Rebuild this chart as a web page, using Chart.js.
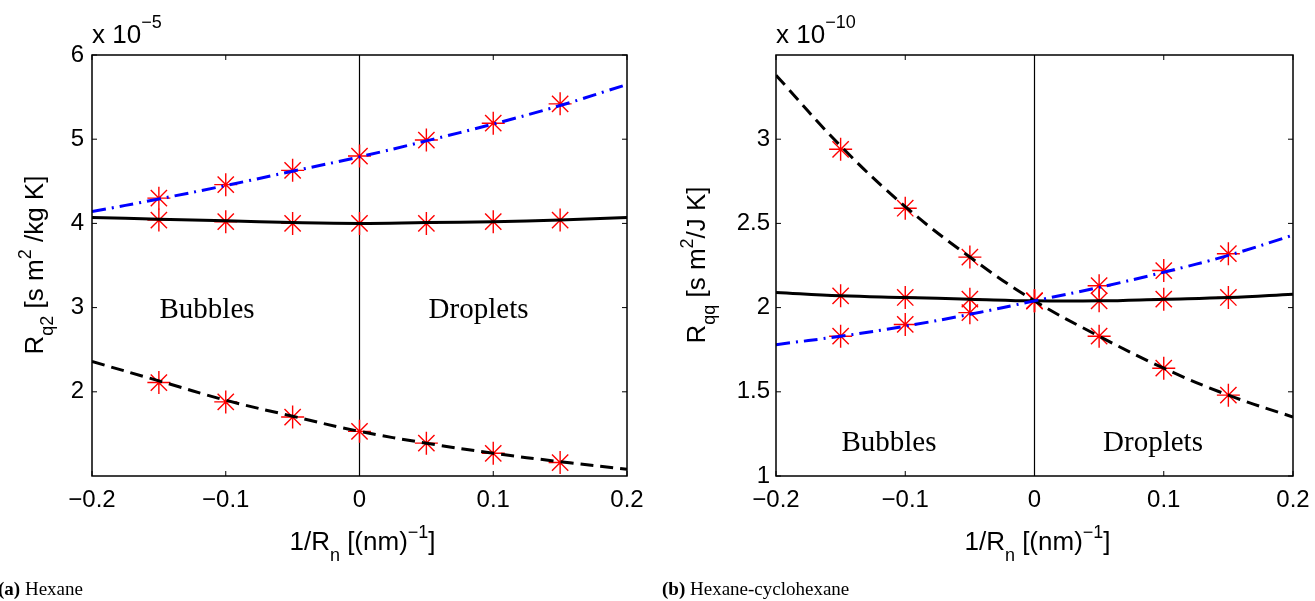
<!DOCTYPE html>
<html>
<head>
<meta charset="utf-8">
<script src="https://cdn.jsdelivr.net/npm/chart.js@4.4.1/dist/chart.umd.min.js"></script>
<style>
  html, body { margin: 0; padding: 0; background: #fff; overflow: hidden; }
  #wrap { position: relative; width: 1315px; height: 601px; }
  canvas { position: absolute; top: 0; }
</style>
</head>
<body>
<div id="wrap">
  <canvas id="chartA" width="657" height="601" style="left:0"></canvas>
  <canvas id="chartB" width="658" height="601" style="left:657px"></canvas>
</div>
<script>
// shared x values
const xFit = [-0.2, -0.15, -0.1, -0.05, 0, 0.05, 0.1, 0.15, 0.2];
const xData = [-0.15, -0.1, -0.05, 0, 0.05, 0.1, 0.15];
const xTicks = [-0.2, -0.1, 0, 0.1, 0.2];

// (a) Hexane, R_q2 in units of 1e-5
const hexBlueFit = [4.14, 4.29, 4.45, 4.62, 4.79, 4.98, 5.18, 5.40, 5.65];
const hexBlueData = [4.30, 4.46, 4.63, 4.80, 4.99, 5.19, 5.42];
const hexSolidFit = [4.07, 4.05, 4.03, 4.01, 4.00, 4.01, 4.02, 4.04, 4.07];
const hexSolidData = [4.04, 4.02, 4.00, 4.00, 4.00, 4.02, 4.04];
const hexDashFit = [2.36, 2.13, 1.90, 1.71, 1.53, 1.39, 1.27, 1.17, 1.08];
const hexDashData = [2.11, 1.88, 1.70, 1.53, 1.39, 1.27, 1.16];
const hexYTicks = [2, 3, 4, 5, 6];

// (b) Hexane-cyclohexane, R_qq in units of 1e-10
const mixDashFit = [3.38, 2.96, 2.60, 2.30, 2.04, 1.83, 1.64, 1.48, 1.35];
const mixDashData = [2.94, 2.59, 2.30, 2.04, 1.83, 1.64, 1.48];
const mixSolidFit = [2.09, 2.07, 2.06, 2.05, 2.04, 2.04, 2.05, 2.06, 2.08];
const mixSolidData = [2.07, 2.06, 2.05, 2.04, 2.04, 2.05, 2.06];
const mixBlueFit = [1.78, 1.83, 1.89, 1.96, 2.04, 2.12, 2.21, 2.31, 2.43];
const mixBlueData = [1.83, 1.90, 1.97, 2.04, 2.13, 2.22, 2.32];
const mixYTicks = [1, 1.5, 2, 2.5, 3];

const SANS = '"Liberation Sans", Arial, sans-serif';
const SERIF = '"Liberation Serif", "Times New Roman", serif';

function pts(xs, ys) {
    return xs.map((x, i) => ({ x: x, y: ys[i] }));
}

function fmt(v) {
    if (v === 0) return '0';
    return (v < 0 ? '\u2212' : '') + String(Math.abs(v));
}

function fitLine(xs, ys, color, dash) {
    return {
        data: pts(xs, ys),
        showLine: true,
        borderColor: color,
        borderWidth: 3,
        borderDash: dash,
        pointRadius: 0,
        tension: 0.4,
        order: 1
    };
}

function stars(xs, ys) {
    return {
        data: pts(xs, ys),
        showLine: false,
        pointStyle: 'star',
        pointRadius: 11.5,
        borderWidth: 1.4,
        borderColor: '#ff0000',
        backgroundColor: '#ff0000',
        order: 2
    };
}

// draw text made of pieces (normal / sub / superscript)
function drawParts(ctx, parts, x, y, center) {
    let total = 0;
    parts.forEach(p => {
        ctx.font = (p.bold ? 'bold ' : '') + p.s + 'px ' + (p.f || SANS);
        p.w = ctx.measureText(p.t).width;
        total += p.w;
    });
    let cx = center ? x - total / 2 : x;
    ctx.textAlign = 'left';
    ctx.textBaseline = 'alphabetic';
    parts.forEach(p => {
        ctx.font = (p.bold ? 'bold ' : '') + p.s + 'px ' + (p.f || SANS);
        ctx.fillText(p.t, cx, y + (p.dy || 0));
        cx += p.w;
    });
}

const overlay = {
    id: 'overlay',
    beforeDatasetsDraw(chart) {
        const ctx = chart.ctx, a = chart.chartArea;
        const x0 = chart.scales.x.getPixelForValue(0);
        ctx.save();
        ctx.strokeStyle = '#000';
        ctx.lineWidth = 1.2;
        ctx.beginPath();
        ctx.moveTo(x0, a.top);
        ctx.lineTo(x0, a.bottom);
        ctx.stroke();
        ctx.restore();
    },
    afterDraw(chart) {
        const o = chart.options.plugins.overlay;
        const ctx = chart.ctx, a = chart.chartArea;
        const sx = chart.scales.x, sy = chart.scales.y;
        ctx.save();
        ctx.strokeStyle = '#000';
        ctx.fillStyle = '#000';
        // box
        ctx.lineWidth = 1.5;
        ctx.strokeRect(a.left, a.top, a.right - a.left, a.bottom - a.top);
        // inward ticks
        ctx.lineWidth = 1;
        ctx.beginPath();
        xTicks.forEach(v => {
            const px = sx.getPixelForValue(v);
            ctx.moveTo(px, a.bottom); ctx.lineTo(px, a.bottom - 5);
            ctx.moveTo(px, a.top); ctx.lineTo(px, a.top + 5);
        });
        o.yTicks.forEach(v => {
            const py = sy.getPixelForValue(v);
            ctx.moveTo(a.left, py); ctx.lineTo(a.left + 5, py);
            ctx.moveTo(a.right, py); ctx.lineTo(a.right - 5, py);
        });
        ctx.stroke();

        // exponent above the y axis
        drawParts(ctx, [{ t: 'x 10', s: 26 }, { t: o.exp, s: 18, dy: -15 }], a.left, 43, false);

        // x title
        drawParts(ctx, [
            { t: '1/R', s: 26 }, { t: 'n', s: 18, dy: 11 }, { t: ' [(nm)', s: 26 },
            { t: '\u22121', s: 18, dy: -12 }, { t: ']', s: 26 }
        ], sx.getPixelForValue(0) + 3, 550, true);

        // y title
        ctx.save();
        ctx.translate(o.yTitleX, o.yTitleY);
        ctx.rotate(-Math.PI / 2);
        drawParts(ctx, o.yTitle, 0, 0, true);
        ctx.restore();

        // region labels
        ctx.font = '29px ' + SERIF;
        ctx.textAlign = 'center';
        ctx.textBaseline = 'alphabetic';
        o.regions.forEach(r => {
            ctx.fillText(r.t, sx.getPixelForValue(r.x), sy.getPixelForValue(r.y));
        });

        // caption
        drawParts(ctx, [
            { t: o.capTag, s: 19, f: SERIF, bold: true },
            { t: ' ' + o.caption, s: 19, f: SERIF }
        ], o.capX, 595, false);
        ctx.restore();
    }
};

function makeChart(id, cfg) {
    return new Chart(document.getElementById(id), {
        type: 'scatter',
        data: { datasets: cfg.datasets },
        options: {
            responsive: false,
            animation: false,
            events: [],
            layout: { padding: { left: 0, top: 55, right: cfg.padRight, bottom: 0 } },
            plugins: {
                legend: { display: false },
                tooltip: { enabled: false },
                overlay: cfg.overlay
            },
            scales: {
                x: {
                    type: 'linear',
                    min: -0.2,
                    max: 0.2,
                    afterBuildTicks: s => { s.ticks = xTicks.map(v => ({ value: v })); },
                    afterFit: s => { s.height = 125; s.paddingLeft = 0; s.paddingRight = 0; },
                    grid: { display: false, drawTicks: false },
                    border: { display: false },
                    ticks: {
                        padding: 10,
                        color: '#000',
                        font: { family: SANS, size: 24 },
                        maxRotation: 0,
                        callback: v => fmt(v)
                    }
                },
                y: {
                    type: 'linear',
                    min: cfg.yMin,
                    max: cfg.yMax,
                    afterBuildTicks: s => { s.ticks = cfg.overlay.yTicks.map(v => ({ value: v })); },
                    afterFit: s => { s.width = cfg.axisLeft; s.paddingTop = 0; s.paddingBottom = 0; },
                    grid: { display: false, drawTicks: false },
                    border: { display: false },
                    ticks: {
                        padding: cfg.yPad,
                        color: '#000',
                        font: { family: SANS, size: 24 },
                        callback: v => fmt(v)
                    }
                }
            }
        },
        plugins: [overlay]
    });
}

makeChart('chartA', {
    axisLeft: 92,
    padRight: 30,
    yMin: 1,
    yMax: 6,
    yPad: 8,
    datasets: [
        fitLine(xFit, hexBlueFit, '#0000ff', [14, 6, 2, 6]),
        fitLine(xFit, hexSolidFit, '#000000', []),
        fitLine(xFit, hexDashFit, '#000000', [13, 7]),
        stars(xData, hexBlueData),
        stars(xData, hexSolidData),
        stars(xData, hexDashData)
    ],
    overlay: {
        yTicks: hexYTicks,
        exp: '\u22125',
        yTitleX: 43,
        yTitleY: 265,
        yTitle: [
            { t: 'R', s: 26 }, { t: 'q2', s: 18, dy: 10 }, { t: ' [s m', s: 26 },
            { t: '2', s: 18, dy: -12 }, { t: ' /kg K]', s: 26 }
        ],
        regions: [
            { t: 'Bubbles', x: -0.114, y: 2.88 },
            { t: 'Droplets', x: 0.089, y: 2.88 }
        ],
        capTag: '(a)',
        caption: 'Hexane',
        capX: -2
    }
});

makeChart('chartB', {
    axisLeft: 119,
    padRight: 22,
    yMin: 1,
    yMax: 3.5,
    yPad: 6,
    datasets: [
        fitLine(xFit, mixBlueFit, '#0000ff', [14, 6, 2, 6]),
        fitLine(xFit, mixSolidFit, '#000000', []),
        fitLine(xFit, mixDashFit, '#000000', [13, 7]),
        stars(xData, mixBlueData),
        stars(xData, mixSolidData),
        stars(xData, mixDashData)
    ],
    overlay: {
        yTicks: mixYTicks,
        exp: '\u221210',
        yTitleX: 48,
        yTitleY: 265,
        yTitle: [
            { t: 'R', s: 26 }, { t: 'qq', s: 18, dy: 10 }, { t: ' [s m', s: 26 },
            { t: '2', s: 18, dy: -12 }, { t: '/J K]', s: 26 }
        ],
        regions: [
            { t: 'Bubbles', x: -0.1126, y: 1.15 },
            { t: 'Droplets', x: 0.0917, y: 1.15 }
        ],
        capTag: '(b)',
        caption: 'Hexane-cyclohexane',
        capX: 5
    }
});
</script>
</body>
</html>
